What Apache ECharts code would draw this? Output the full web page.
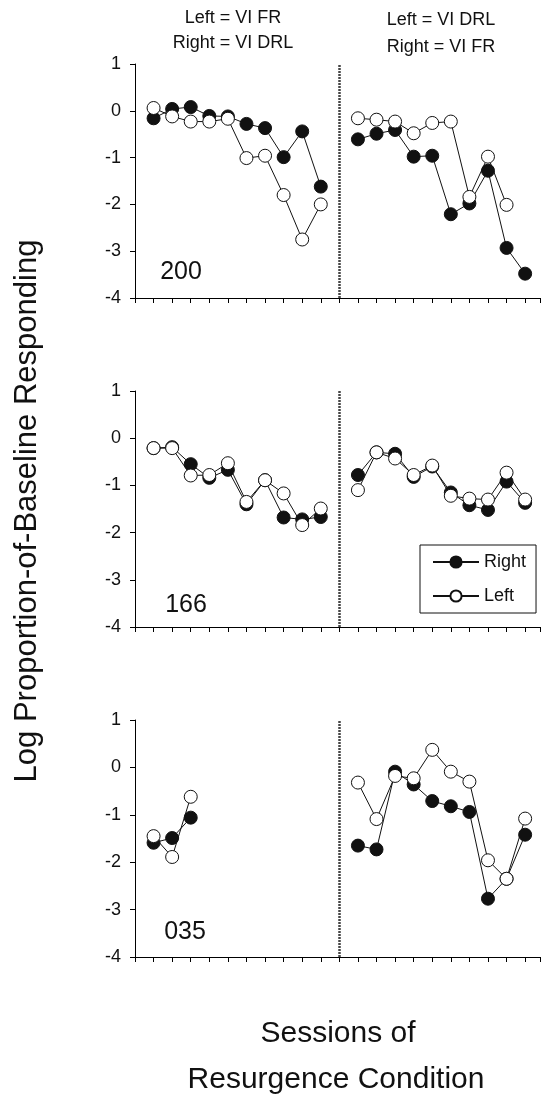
<!DOCTYPE html>
<html>
<head>
<meta charset="utf-8">
<script src="https://cdn.jsdelivr.net/npm/echarts@6/dist/echarts.min.js"></script>
<style>
body { margin: 0; background: #fff; }
#main { width: 542px; height: 1100px; }
</style>
</head>
<body>
<div id="main"></div>
<script>
// sessions in each phase, condition change sits between them on the axis
const sessionsPhase1 = [1, 2, 3, 4, 5, 6, 7, 8, 9, 10];
const sessionsPhase2 = [1, 2, 3, 4, 5, 6, 7, 8, 9, 10];
const phaseBreak = 11;

const subjects = ['200', '166', '035'];

// log proportion of baseline, Right key (filled) and Left key (open)
const s200Right1 = [-0.16, 0.04, 0.08, -0.11, -0.12, -0.28, -0.37, -0.99, -0.44, -1.62];
const s200Left1 = [0.06, -0.12, -0.23, -0.23, -0.17, -1.01, -0.96, -1.80, -2.75, -2.00];
const s200Right2 = [-0.61, -0.49, -0.41, -0.98, -0.96, -2.21, -1.98, -1.28, -2.93, -3.48];
const s200Left2 = [-0.16, -0.19, -0.23, -0.48, -0.26, -0.23, -1.84, -0.98, -2.01, null];

const s166Right1 = [-0.21, -0.19, -0.55, -0.84, -0.67, -1.40, -0.89, -1.68, -1.72, -1.67];
const s166Left1 = [-0.21, -0.21, -0.79, -0.78, -0.53, -1.35, -0.89, -1.17, -1.84, -1.49];
const s166Right2 = [-0.78, -0.30, -0.33, -0.82, -0.60, -1.15, -1.42, -1.52, -0.92, -1.37];
const s166Left2 = [-1.10, -0.30, -0.43, -0.78, -0.58, -1.22, -1.28, -1.30, -0.73, -1.30];

const s035Right1 = [-1.59, -1.49, -1.06];
const s035Left1 = [-1.45, -1.89, -0.62];
const s035Right2 = [-1.65, -1.73, -0.09, -0.36, -0.71, -0.82, -0.94, -2.77, -2.35, -1.42];
const s035Left2 = [-0.32, -1.09, -0.18, -0.23, 0.37, -0.09, -0.30, -1.96, -2.35, -1.08];

const yMin = -4, yMax = 1;

const panels = [
  { right: [s200Right1, s200Right2], left: [s200Left1, s200Left2] },
  { right: [s166Right1, s166Right2], left: [s166Left1, s166Left2] },
  { right: [s035Right1, s035Right2], left: [s035Left1, s035Left2] }
];

function points(p1, p2) {
  const out = [];
  p1.forEach((v, i) => { if (v != null) out.push([sessionsPhase1[i], v]); });
  out.push([phaseBreak, '-']);
  p2.forEach((v, i) => { if (v != null) out.push([phaseBreak + sessionsPhase2[i], v]); });
  return out;
}

const font = 'Liberation Sans, Arial, sans-serif';
const gridTops = [64, 391, 720];
const gridHeights = [234, 236, 237];

const grids = [], xAxes = [], yAxes = [], series = [];
panels.forEach((p, k) => {
  grids.push({ left: 135, width: 405, top: gridTops[k], height: gridHeights[k] });
  xAxes.push({
    type: 'value', gridIndex: k, min: 0, max: 21.8, interval: 1,
    axisLine: { onZero: false, lineStyle: { color: '#000', width: 1 } },
    axisTick: { length: 5, lineStyle: { color: '#000' } },
    axisLabel: { show: false },
    splitLine: { show: false }
  });
  yAxes.push({
    type: 'value', gridIndex: k, min: yMin, max: yMax, interval: 1,
    axisLine: { show: true, onZero: false, lineStyle: { color: '#000', width: 1 } },
    axisTick: { show: true, length: 5, lineStyle: { color: '#000' } },
    axisLabel: { color: '#111', fontSize: 18, fontFamily: font, margin: 14 },
    splitLine: { show: false }
  });
  series.push({
    name: 'Right', type: 'line', xAxisIndex: k, yAxisIndex: k,
    data: points(p.right[0], p.right[1]),
    symbol: 'circle', symbolSize: 13,
    itemStyle: { color: '#111', borderColor: '#111', borderWidth: 1 },
    lineStyle: { color: '#111', width: 1 },
    markLine: {
      silent: true, symbol: 'none', label: { show: false },
      lineStyle: { color: '#444', width: 2.5, type: [2, 1] },
      data: [{ xAxis: phaseBreak }]
    }
  });
  series.push({
    name: 'Left', type: 'line', xAxisIndex: k, yAxisIndex: k,
    data: points(p.left[0], p.left[1]),
    symbol: 'circle', symbolSize: 13,
    itemStyle: { color: '#fff', borderColor: '#111', borderWidth: 1 },
    lineStyle: { color: '#111', width: 1 }
  });
});

const texts = [
  { x: 233, y: 18, t: 'Left = VI FR', s: 18 },
  { x: 233, y: 43, t: 'Right = VI DRL', s: 18 },
  { x: 441, y: 20, t: 'Left = VI DRL', s: 18 },
  { x: 441, y: 47, t: 'Right = VI FR', s: 18 },
  { x: 181, y: 272, t: subjects[0], s: 25 },
  { x: 186, y: 605, t: subjects[1], s: 25 },
  { x: 185, y: 932, t: subjects[2], s: 25 },
  { x: 338, y: 1034, t: 'Sessions of', s: 30 },
  { x: 336, y: 1080, t: 'Resurgence Condition', s: 30 }
];
const graphic = texts.map(d => ({
  type: 'text', x: d.x, y: d.y,
  style: { text: d.t, fill: '#111', font: d.s + 'px ' + font, textAlign: 'center', textVerticalAlign: 'middle' }
}));
graphic.push({
  type: 'text', x: 27, y: 511, rotation: Math.PI / 2,
  style: { text: 'Log Proportion-of-Baseline Responding', fill: '#111', font: '31px ' + font, textAlign: 'center', textVerticalAlign: 'middle' }
});

const chart = echarts.init(document.getElementById('main'));
chart.setOption({
  animation: false,
  backgroundColor: '#fff',
  grid: grids,
  xAxis: xAxes,
  yAxis: yAxes,
  series: series,
  graphic: graphic,
  legend: {
    data: ['Right', 'Left'],
    orient: 'vertical', left: 420, top: 545,
    itemWidth: 46, itemHeight: 14, itemGap: 16,
    padding: [8, 10, 8, 12],
    borderColor: '#111', borderWidth: 1,
    textStyle: { fontSize: 18, fontFamily: font, color: '#111' }
  }
});
</script>
</body>
</html>
